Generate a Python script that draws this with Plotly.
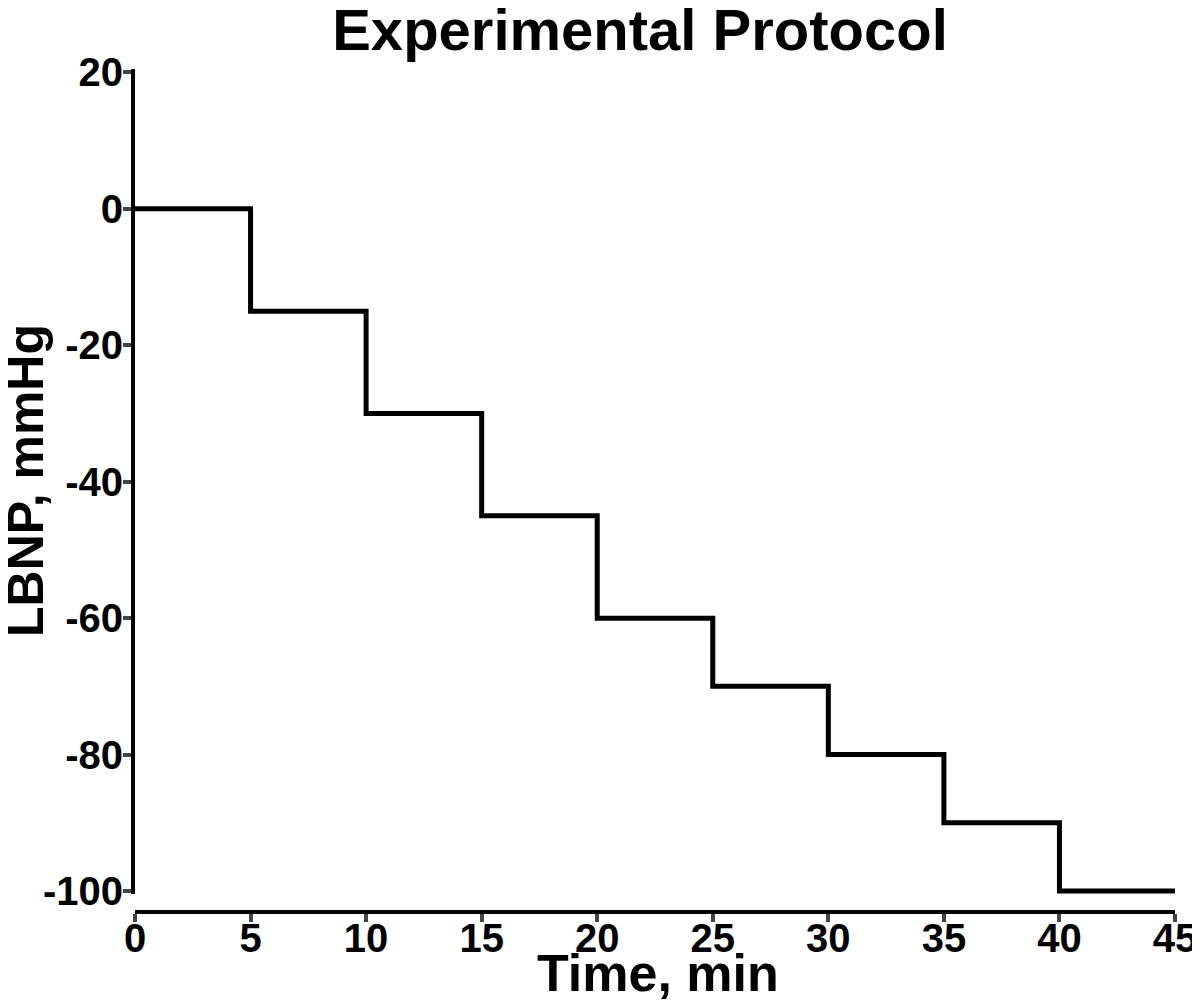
import plotly.graph_objects as go

time_min = [0, 5, 10, 15, 20, 25, 30, 35, 40, 45]
lbnp_mmhg = [0, -15, -30, -45, -60, -70, -80, -90, -100, -100]
x_ticks = [0, 5, 10, 15, 20, 25, 30, 35, 40, 45]
y_ticks = [20, 0, -20, -40, -60, -80, -100]
y_tick_text = ["20", "0", "-20", "-40", "-60", "-80", "-100"]

FONT = "Liberation Sans, Arial, sans-serif"

fig = go.Figure()
fig.add_trace(go.Scatter(
    x=time_min, y=lbnp_mmhg, mode="lines",
    line=dict(shape="hv", color="black", width=5),
    showlegend=False,
))

# page body has an 8px margin; all pixel targets below are in figure coordinates
OFF = 8
W, H = 1200, 1003
L, R = 135 - OFF, 1175 - OFF
top, bottom_plot = 69 - OFF, 912 - OFF
y_min, y_max = -100.45, 20.5
px_per_unit = (891 - 72.5) / 120.0
y_bottom = (891 - OFF) + (-100 - y_min) * px_per_unit


def px(xp):
    return (xp - L) / (R - L)


def py(yp):
    return (bottom_plot - yp) / (bottom_plot - top)


fig.update_layout(
    width=W, height=H,
    paper_bgcolor="white", plot_bgcolor="white",
    margin=dict(l=L, r=W - R, t=top, b=H - bottom_plot),
    font=dict(family=FONT, color="black"),
    title=dict(text="<b>Experimental Protocol</b>", font=dict(size=58, family=FONT),
               xref="container", x=(640 - OFF) / W, xanchor="center",
               yref="container", y=1 - 22 / H, yanchor="middle"),
    xaxis=dict(range=[0, 45], tickvals=x_ticks, ticks="outside", ticklen=8, tickwidth=4,
               showline=True, linewidth=4, linecolor="black", showgrid=False, zeroline=False,
               anchor="free", position=0, automargin=False, ticklabelstandoff=-18,
               tickfont=dict(size=40, family=FONT, weight="bold")),
    yaxis=dict(range=[y_min, y_max], tickvals=y_ticks, ticktext=y_tick_text,
               ticks="outside", ticklen=8, tickwidth=4,
               domain=[(bottom_plot - y_bottom) / (bottom_plot - top), 1],
               showline=True, linewidth=4, linecolor="black", showgrid=False, zeroline=False,
               automargin=False, ticklabelstandoff=-8,
               tickfont=dict(size=40, family=FONT, weight="bold")),
    annotations=[
        dict(text="<b>Time, min</b>", xref="paper", yref="paper",
             x=px(658 - OFF), y=py(965), xanchor="center", yanchor="middle",
             showarrow=False, font=dict(size=52, family=FONT)),
        dict(text="<b>LBNP, mmHg</b>", xref="paper", yref="paper",
             x=px(18), y=py(473), xanchor="center", yanchor="middle", textangle=-90,
             showarrow=False, font=dict(size=50, family=FONT)),
    ],
)

fig.write_html("out.html")
